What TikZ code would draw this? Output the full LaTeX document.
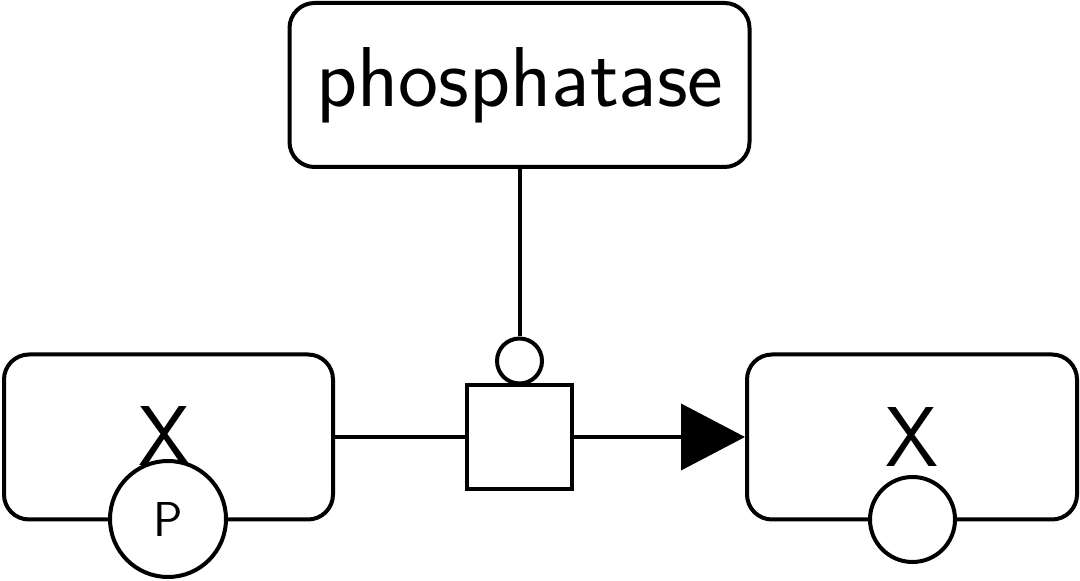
\documentclass[tikz,border=0pt]{standalone}
\usetikzlibrary{arrows.meta}
\begin{document}
\begin{tikzpicture}[x=0.5pt,y=-0.5pt,
  lw/.style={line width=2pt},
  entity/.style={lw,draw,rounded corners=12.5pt,inner sep=0pt,fill=white},
  svar/.style={lw,draw,circle,inner sep=0pt,fill=white},
  proc/.style={lw,draw,rectangle,inner sep=0pt,fill=white,minimum width=52.5pt,minimum height=52pt},
  conn/.style={lw},
  lbl/.style={font=\sffamily\fontsize{42.5}{50}\selectfont,inner sep=0pt,anchor=base}
]
\fill[white] (0,0) rectangle (1080,581);
\useasboundingbox (0,0) rectangle (1080,581);
\node[entity,minimum width=230pt,minimum height=82pt] (phos) at (519.5,85) {};
\node[lbl] (phosl) at (520,107) {phosphatase};
\node[entity,minimum width=164.5pt,minimum height=82.5pt] (left) at (168.5,437) {};
\node[entity,minimum width=165pt,minimum height=82.5pt] (right) at (912,437) {};
\node[lbl] (lx) at (165,466) {X};
\node[lbl] (rx) at (912,467) {X};
\node[svar,minimum size=58pt] (pc) at (168,519) {};
\node[font=\sffamily\fontsize{24.5}{30}\selectfont,inner sep=0pt,anchor=base] (pl) at (168,537) {P};
\node[svar,minimum size=42.5pt] (rc) at (912.5,519.5) {};
\node[proc] (sq) at (519.5,437) {};
\node[svar,minimum size=22.5pt] (mod) at (519.5,361) {};
\draw[conn] (phos.south) -- (mod.north);
\draw[conn] (left.east) -- (sq.west);
\draw[conn,-{Triangle[length=32pt,width=33pt]}] (sq.east) -- (right.west);
\end{tikzpicture}
\end{document}
